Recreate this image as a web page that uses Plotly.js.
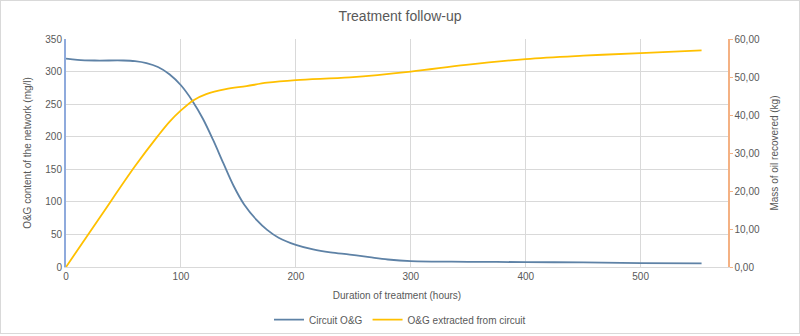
<!DOCTYPE html>
<html>
<head>
<meta charset="utf-8">
<script src="https://cdn.plot.ly/plotly-3.0.1.min.js"></script>
<style>
  html, body { margin: 0; padding: 0; background: #fff; }
  #frame { width: 800px; height: 334px; box-sizing: border-box; border: 1px solid #d9d9d9; }
  #chart { width: 798px; height: 332px; }
</style>
</head>
<body>
<div id="frame"><div id="chart"></div></div>
<script>
// Circuit O&G (mg/l) vs duration of treatment (hours)
var hoursCircuit = [0, 10, 25, 50, 60, 70, 80, 90, 100, 110, 119, 128, 137, 146, 155, 166, 175, 185, 200, 215, 230, 247, 264, 280, 300, 350, 400, 450, 500, 553];
var circuitOG    = [320, 318, 317, 317, 316, 313, 307, 296, 279, 255, 228, 195, 159, 124, 96, 72, 57, 45, 34, 27, 22.5, 19, 15, 11.5, 9, 8, 7.5, 7, 6, 5.5];

// O&G extracted from circuit (kg) vs duration of treatment (hours)
var hoursExtracted = [0, 30, 60, 80, 90, 100, 111, 122, 139, 157, 175, 200, 247, 300, 348, 400, 450, 500, 553];
var extractedOG    = [0, 13.3, 26.5, 34.5, 38.2, 41.2, 43.9, 45.5, 46.8, 47.6, 48.5, 49.2, 49.9, 51.4, 53.2, 54.7, 55.6, 56.3, 57.0];

var xTicks = [0, 100, 200, 300, 400, 500];
var xTickLabels = ['0', '100', '200', '300', '400', '500'];
var leftTicks = [0, 50, 100, 150, 200, 250, 300, 350];
var leftTickLabels = ['0', '50', '100', '150', '200', '250', '300', '350'];
var rightTicks = [0, 10, 20, 30, 40, 50, 60];
var rightTickLabels = ['0,00', '10,00', '20,00', '30,00', '40,00', '50,00', '60,00'];

var seriesNames = ['Circuit O&G', 'O&G extracted from circuit'];

var grey = '#595959';
var font = { family: 'Liberation Sans, Arial, sans-serif', size: 10, color: grey };

var traces = [
  {
    x: hoursCircuit, y: circuitOG, name: seriesNames[0], type: 'scatter', mode: 'lines',
    line: { color: '#5E82A6', width: 1.8, shape: 'spline', smoothing: 1 },
    yaxis: 'y'
  },
  {
    x: hoursExtracted, y: extractedOG, name: seriesNames[1], type: 'scatter', mode: 'lines',
    line: { color: '#FFC000', width: 1.8, shape: 'spline', smoothing: 1 },
    yaxis: 'y2'
  }
];

var layout = {
  width: 798, height: 332,
  margin: { l: 65, r: 71, t: 38, b: 66 },
  paper_bgcolor: '#ffffff', plot_bgcolor: '#ffffff',
  font: font,
  title: { text: 'Treatment follow-up', font: { family: font.family, size: 14, color: grey }, x: 0.5, xanchor: 'center', y: 0.955, yanchor: 'middle' },
  showlegend: true,
  legend: { orientation: 'h', x: 0.5, xanchor: 'center', xref: 'container', y: 0.04, yanchor: 'middle', yref: 'container', font: font, itemwidth: 30, traceorder: 'normal' },
  xaxis: {
    range: [0, 576], tickvals: xTicks, ticktext: xTickLabels,
    showgrid: true, gridcolor: '#d9d9d9', gridwidth: 1,
    showline: true, linecolor: '#d9d9d9', linewidth: 1,
    zeroline: false, ticks: '', tickfont: font,
    title: { text: 'Duration of treatment (hours)', font: font, standoff: 10 },
    automargin: false
  },
  yaxis: {
    range: [0, 350], tickvals: leftTicks, ticktext: leftTickLabels,
    showgrid: true, gridcolor: '#d9d9d9', gridwidth: 1,
    showline: true, linecolor: '#8FAADC', linewidth: 2,
    zeroline: false, ticks: '', tickfont: font,
    title: { text: 'O&G content of the network (mg/l)', font: font, standoff: 12 },
    automargin: false
  },
  yaxis2: {
    range: [0, 60], tickvals: rightTicks, ticktext: rightTickLabels,
    overlaying: 'y', side: 'right', showgrid: false,
    showline: true, linecolor: '#F4B183', linewidth: 1.5,
    zeroline: false, ticks: 'outside', ticklen: 3, tickcolor: '#F4B183', tickwidth: 1,
    tickfont: font,
    title: { text: 'Mass of oil recovered (kg)', font: font, standoff: 12 },
    automargin: false
  }
};

Plotly.newPlot('chart', traces, layout, { staticPlot: true, displayModeBar: false });
</script>
</body>
</html>
